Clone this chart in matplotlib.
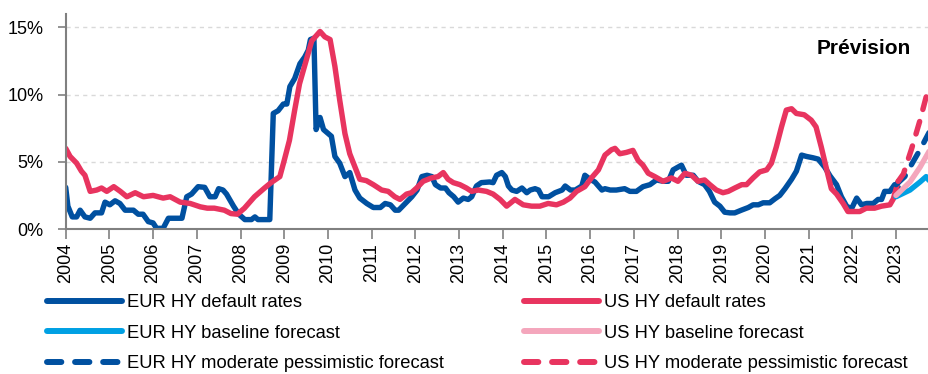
import matplotlib
matplotlib.use("Agg")
import matplotlib.pyplot as plt
from matplotlib import font_manager

# --- data (decimal years, default rate in %) ---
eur_x = [2004.00, 2004.05, 2004.15, 2004.25, 2004.33, 2004.44, 2004.56, 2004.67, 2004.82, 2004.90,
         2005.01, 2005.13, 2005.24, 2005.36, 2005.55, 2005.66, 2005.77, 2005.89, 2006.00, 2006.08,
         2006.23, 2006.35, 2006.50, 2006.66, 2006.77, 2006.88, 2007.03, 2007.18, 2007.30, 2007.42,
         2007.50, 2007.60, 2007.68, 2007.84, 2007.96, 2008.10, 2008.25, 2008.33, 2008.40, 2008.67,
         2008.75, 2008.86, 2008.98, 2009.06, 2009.13, 2009.24, 2009.36, 2009.47, 2009.55, 2009.60,
         2009.68, 2009.73, 2009.82, 2009.90, 2010.01, 2010.08, 2010.16, 2010.27, 2010.39, 2010.50,
         2010.62, 2010.73, 2010.89, 2011.04, 2011.20, 2011.31, 2011.43, 2011.54, 2011.62, 2011.77,
         2011.92, 2012.04, 2012.15, 2012.27, 2012.38, 2012.46, 2012.58, 2012.69, 2012.77, 2012.88,
         2012.98, 2013.10, 2013.21, 2013.29, 2013.40, 2013.51, 2013.70, 2013.78, 2013.86, 2013.98,
         2014.06, 2014.13, 2014.21, 2014.32, 2014.44, 2014.55, 2014.63, 2014.74, 2014.82, 2014.90,
         2015.05, 2015.20, 2015.36, 2015.43, 2015.55, 2015.66, 2015.81, 2015.88, 2016.00, 2016.11,
         2016.27, 2016.34, 2016.46, 2016.60, 2016.79, 2016.91, 2017.06, 2017.21, 2017.37, 2017.52,
         2017.67, 2017.79, 2017.90, 2018.09, 2018.20, 2018.36, 2018.47, 2018.62, 2018.73, 2018.85,
         2018.97, 2019.08, 2019.20, 2019.31, 2019.46, 2019.62, 2019.73, 2019.85, 2019.96, 2020.11,
         2020.23, 2020.34, 2020.46, 2020.61, 2020.72, 2020.84, 2020.95, 2021.10, 2021.22, 2021.37,
         2021.49, 2021.64, 2021.75, 2021.87, 2021.98, 2022.10, 2022.21, 2022.33, 2022.48, 2022.59,
         2022.67, 2022.74, 2022.86, 2022.97, 2023.05]
eur_y = [3.1, 1.7, 0.9, 0.9, 1.4, 0.9, 0.8, 1.2, 1.2, 2.0,
         1.8, 2.1, 1.9, 1.4, 1.4, 1.1, 1.1, 0.55, 0.45, 0.05,
         0.05, 0.8, 0.8, 0.8, 2.4, 2.6, 3.15, 3.1, 2.4, 2.4,
         3.0, 2.9, 2.6, 1.7, 1.1, 0.7, 0.7, 0.9, 0.7, 0.7,
         8.6, 8.8, 9.3, 9.3, 10.6, 11.2, 12.3, 12.8, 13.3, 14.1,
         14.2, 7.4, 8.3, 7.4, 7.1, 6.9, 5.4, 4.9, 3.9, 4.2,
         2.9, 2.3, 1.9, 1.6, 1.6, 1.9, 1.8, 1.4, 1.4, 1.9,
         2.4, 2.9, 3.9, 4.0, 3.9, 3.3, 3.05, 3.05, 2.7, 2.4,
         2.0, 2.3, 2.2, 2.4, 3.2, 3.45, 3.5, 3.45, 4.0, 4.2,
         3.9, 3.2, 2.9, 2.8, 3.05, 2.7, 2.9, 3.0, 2.9, 2.4,
         2.4, 2.7, 2.9, 3.2, 2.9, 2.9, 3.2, 4.0, 3.7, 3.5,
         2.9, 3.0, 2.9, 2.9, 3.0, 2.8, 2.8, 3.15, 3.3, 3.65,
         3.55, 3.55, 4.4, 4.75, 4.0, 4.0, 3.55, 3.3, 2.8, 2.0,
         1.7, 1.25, 1.2, 1.2, 1.4, 1.6, 1.8, 1.8, 1.95, 1.95,
         2.25, 2.5, 3.0, 3.7, 4.3, 5.5, 5.4, 5.3, 5.2, 4.6,
         3.95, 3.3, 2.4, 1.7, 1.5, 2.3, 1.8, 1.9, 1.9, 2.2,
         2.2, 2.8, 2.8, 3.3, 3.1]

us_x = [2004.00, 2004.10, 2004.25, 2004.36, 2004.44, 2004.56, 2004.71, 2004.82, 2004.94, 2005.10,
        2005.25, 2005.40, 2005.59, 2005.78, 2006.00, 2006.23, 2006.39, 2006.62, 2006.85, 2007.08,
        2007.24, 2007.40, 2007.63, 2007.78, 2007.93, 2008.09, 2008.32, 2008.55, 2008.70, 2008.90,
        2009.00, 2009.12, 2009.24, 2009.35, 2009.50, 2009.63, 2009.82, 2009.93, 2010.05, 2010.16,
        2010.27, 2010.39, 2010.50, 2010.62, 2010.73, 2010.88, 2011.04, 2011.23, 2011.38, 2011.53,
        2011.65, 2011.80, 2011.91, 2012.03, 2012.18, 2012.37, 2012.52, 2012.64, 2012.75, 2012.87,
        2013.02, 2013.17, 2013.29, 2013.44, 2013.63, 2013.78, 2013.94, 2014.09, 2014.28, 2014.47,
        2014.66, 2014.85, 2015.04, 2015.23, 2015.39, 2015.54, 2015.69, 2015.88, 2016.03, 2016.19,
        2016.34, 2016.49, 2016.57, 2016.68, 2016.83, 2016.98, 2017.10, 2017.21, 2017.33, 2017.48,
        2017.67, 2017.86, 2018.01, 2018.17, 2018.32, 2018.47, 2018.62, 2018.74, 2018.89, 2019.04,
        2019.16, 2019.31, 2019.47, 2019.58, 2019.73, 2019.88, 2020.04, 2020.15, 2020.26, 2020.38,
        2020.49, 2020.61, 2020.72, 2020.90, 2021.06, 2021.17, 2021.29, 2021.40, 2021.52, 2021.64,
        2021.79, 2021.90, 2022.02, 2022.17, 2022.32, 2022.51, 2022.67, 2022.86, 2022.94, 2023.05]
us_y = [6.0, 5.4, 4.9, 4.3, 4.0, 2.8, 2.9, 3.05, 2.8, 3.15,
        2.8, 2.4, 2.7, 2.4, 2.5, 2.3, 2.4, 2.0, 1.9, 1.65,
        1.55, 1.55, 1.4, 1.15, 1.1, 1.55, 2.4, 3.05, 3.45, 3.9,
        5.1, 6.6, 8.85, 10.8, 12.5, 14.0, 14.7, 14.3, 14.1, 12.1,
        9.6, 7.1, 5.6, 4.6, 3.7, 3.6, 3.3, 2.9, 2.8, 2.4,
        2.2, 2.6, 2.7, 3.05, 3.55, 3.8, 3.9, 4.2, 3.7, 3.45,
        3.3, 3.05, 2.8, 2.9, 2.8, 2.6, 2.2, 1.7, 2.2, 1.8,
        1.7, 1.7, 1.9, 1.8, 2.0, 2.3, 2.8, 3.15, 3.8, 4.4,
        5.5, 5.9, 6.0, 5.6, 5.7, 5.85, 5.1, 4.75, 4.15, 3.9,
        3.55, 3.8, 3.55, 4.15, 4.0, 3.55, 3.65, 3.3, 2.9, 2.7,
        2.8, 3.05, 3.3, 3.3, 3.8, 4.25, 4.4, 4.9, 6.1, 7.6,
        8.85, 8.95, 8.6, 8.5, 8.1, 7.6, 6.1, 4.6, 3.0, 2.6,
        1.9, 1.3, 1.3, 1.3, 1.55, 1.55, 1.7, 1.8, 2.25, 3.55]

# forecasts
eur_base_x = [2023.00, 2023.32, 2023.55, 2023.69, 2023.76]
eur_base_y = [2.4, 2.9, 3.5, 3.9, 3.6]
us_base_x = [2023.00, 2023.32, 2023.55, 2023.76]
us_base_y = [2.5, 3.5, 4.6, 5.8]
eur_pess_x = [2023.00, 2023.20, 2023.32, 2023.55, 2023.76]
eur_pess_y = [3.3, 3.9, 4.6, 5.9, 7.2]
us_pess_x = [2023.05, 2023.17, 2023.36, 2023.55, 2023.76]
us_pess_y = [3.55, 4.1, 6.0, 8.1, 10.7]

years = list(range(2004, 2024))
yticks = [0, 5, 10, 15]

# use the narrow face if it exists, otherwise regular Liberation Sans a bit smaller
try:
    font_manager.findfont("Liberation Sans Narrow", fallback_to_default=False)
    base_font, fs, leg_fs = "Liberation Sans Narrow", 15.5, 15.5
except ValueError:
    base_font, fs, leg_fs = "Liberation Sans", 13, 13.2
plt.rcParams["font.family"] = [base_font, "DejaVu Sans"]

EUR = "#0050A0"
EUR_LIGHT = "#00A0E3"
US = "#E8345F"
US_LIGHT = "#F4A6BC"
lw = 3.9
dash = (0, (2.4, 2.3))

fig = plt.figure(figsize=(9.29, 3.74), dpi=100)
ax = fig.add_axes([65.7 / 929, 1 - 229 / 374, (929 - 65.7) / 929, (229 - 14) / 374])

l1, = ax.plot(eur_x, eur_y, color=EUR, lw=lw, solid_joinstyle="round", solid_capstyle="round")
l4, = ax.plot(us_x, us_y, color=US, lw=lw, solid_joinstyle="round", solid_capstyle="round")
l2, = ax.plot(eur_base_x, eur_base_y, color=EUR_LIGHT, lw=lw, solid_capstyle="round")
l5, = ax.plot(us_base_x, us_base_y, color=US_LIGHT, lw=lw, solid_capstyle="round")
l3, = ax.plot(eur_pess_x, eur_pess_y, color=EUR, lw=lw, linestyle=dash, dash_capstyle="round")
l6, = ax.plot(us_pess_x, us_pess_y, color=US, lw=lw, linestyle=dash, dash_capstyle="round")

ax.set_xlim(2004, 2023.755)
ax.set_ylim(0, 16)
ax.set_xticks(years)
ax.set_xticklabels([str(y) for y in years], rotation=90, fontsize=fs)
ax.set_yticks(yticks)
ax.set_yticklabels([f"{v}%" for v in yticks], fontsize=fs)
ax.tick_params(axis="x", length=7, width=1.2, color="#808080", pad=3)
ax.tick_params(axis="y", length=6, width=1.2, color="#808080", pad=10)

for s in ("top", "right"):
    ax.spines[s].set_visible(False)
for s in ("left", "bottom"):
    ax.spines[s].set_color("#808080")
    ax.spines[s].set_linewidth(1.5)

ax.yaxis.grid(True, color="#D9D9D9", lw=1, linestyle=(0, (3, 3)))
ax.set_axisbelow(True)

ax.text(2022.27, 13.45, "Prévision", fontsize=15, fontweight="bold",
        family=["Liberation Sans", "DejaVu Sans"], ha="center", va="center")

handles = [l1, l2, l3, l4, l5, l6]
labels = ["EUR HY default rates", "EUR HY baseline forecast",
          "EUR HY moderate pessimistic forecast", "US HY default rates",
          "US HY baseline forecast", "US HY moderate pessimistic forecast"]
leg = fig.legend(handles, labels, ncol=2, loc="upper left",
                 bbox_to_anchor=(47 / 929, 1 - 294 / 374), frameon=False,
                 fontsize=leg_fs, handlelength=4.1, handletextpad=0.27,
                 columnspacing=4.35, labelspacing=0.74, borderpad=0, borderaxespad=0)
for line in leg.get_lines():
    line.set_linewidth(4.3)

fig.savefig("out.png", dpi=100)
